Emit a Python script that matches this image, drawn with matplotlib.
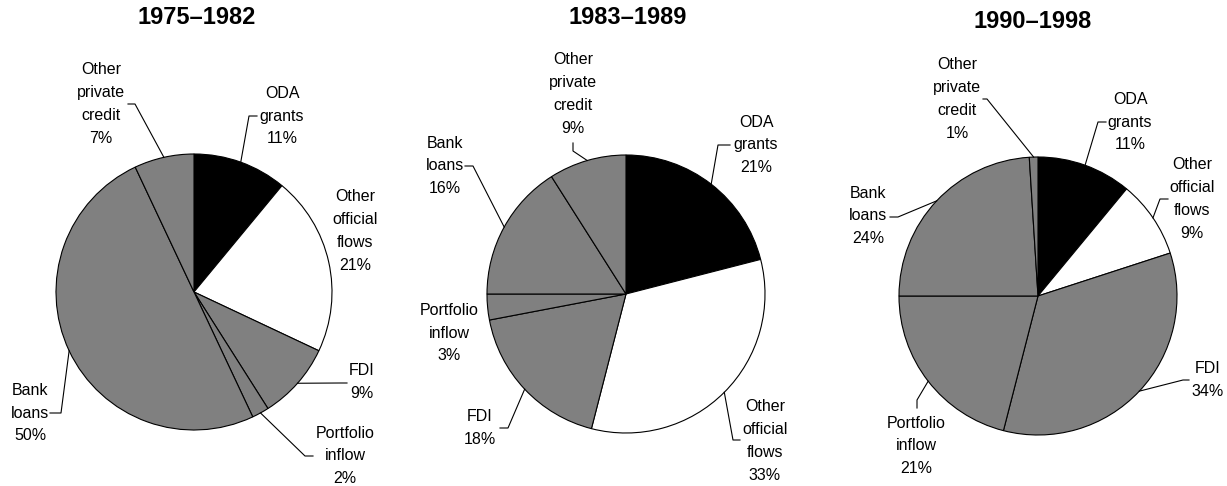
import matplotlib.pyplot as plt
import numpy as np

plt.rcParams['font.family'] = ['Liberation Sans', 'DejaVu Sans']

# data
periods = ['1975–1982', '1983–1989', '1990–1998']
categories = ['ODA\ngrants', 'Other\nofficial\nflows', 'FDI',
              'Portfolio\ninflow', 'Bank\nloans', 'Other\nprivate\ncredit']
shares_7582 = [11, 21, 9, 2, 50, 7]
shares_8389 = [21, 33, 18, 3, 16, 9]
shares_9098 = [11, 9, 34, 21, 24, 1]
colors = ['black', 'white', '#808080', '#808080', '#808080', '#808080']

W, H = 1227, 486  # work in pixel units, y measured from the top

# layout: pie centre, radius, title pos, and per-label (text pos, leader elbow, leader end)
layout = [
    dict(center=(194, 292), r=138, title=(197, 18),
         labels=[((282, 116), [(249, 116), (257, 116)]),
                 ((355, 231), None),
                 ((362, 382), [(340, 383), (347, 383)]),
                 ((345, 456), [(305, 456), (313, 456)]),
                 ((30, 413), [(61, 413), (50, 413)]),
                 ((101, 104), [(135, 104), (128, 104)])]),
    dict(center=(626, 294), r=139, title=(628, 18),
         labels=[((756, 145), [(718, 145), (730, 145)]),
                 ((765, 441), [(733, 440), (740, 440)]),
                 ((480, 428), [(508, 428), (500, 428)]),
                 ((449, 333), None),
                 ((445, 166), [(473, 166), (465, 166)]),
                 ((573, 94), [(573, 151), (573, 143)])]),
    dict(center=(1038, 296), r=139, title=(1033, 22),
         labels=[((1130, 122), [(1098, 122), (1106, 122)]),
                 ((1192, 199), [(1160, 199), (1168, 199)]),
                 ((1208, 380), [(1183, 380), (1189, 380)]),
                 ((916, 446), [(917, 400), (917, 408)]),
                 ((868, 216), [(898, 217), (890, 217)]),
                 ((957, 99), [(987, 99), (983, 99)])]),
]

fig = plt.figure(figsize=(12.27, 4.86), dpi=100)
ax = fig.add_axes([0, 0, 1, 1])

for period, shares, lay in zip(periods, [shares_7582, shares_8389, shares_9098], layout):
    cx, cy = lay['center'][0], H - lay['center'][1]
    r = lay['r']
    wedges, _ = ax.pie(shares, colors=colors, startangle=90, counterclock=False,
                       center=(cx, cy), radius=r,
                       wedgeprops=dict(edgecolor='black', linewidth=0.8))
    tx, ty = lay['title']
    ax.text(tx, H - ty, period, ha='center', va='center', fontsize=17, fontweight='bold')

    for w, cat, v, (tpos, path) in zip(wedges, categories, shares, lay['labels']):
        ax.text(tpos[0], H - tpos[1], f'{cat}\n{v}%', ha='center', va='center',
                fontsize=11.5, linespacing=1.66)
        if path is not None:
            mid = np.deg2rad((w.theta1 + w.theta2) / 2)
            xs = [cx + r * np.cos(mid)] + [p[0] for p in path]
            ys = [cy + r * np.sin(mid)] + [H - p[1] for p in path]
            ax.plot(xs, ys, color='black', lw=0.8)

ax.set_xlim(0, W)
ax.set_ylim(0, H)
ax.set_aspect('equal')
ax.axis('off')

plt.savefig('out.png', dpi=100)
